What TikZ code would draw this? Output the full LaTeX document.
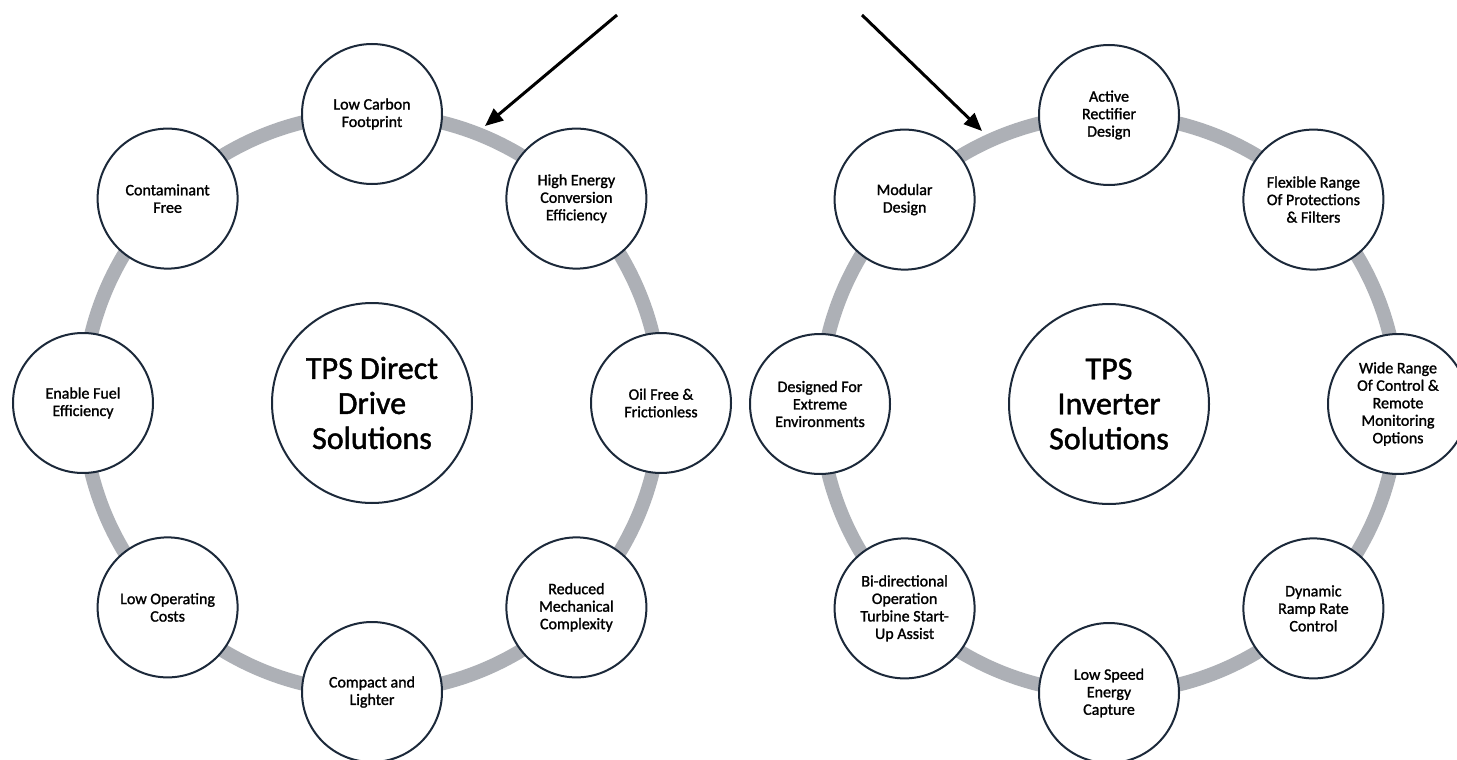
\documentclass[tikz,border=0pt]{standalone}
\usepackage{fontspec}
\setmainfont{Carlito}
% slightly heavier face for the captions
\newfontfamily\captionface{Carlito}[FakeBold=1.4]
\usetikzlibrary{arrows.meta}
\definecolor{ringgray}{HTML}{ADB0B6}
\definecolor{rimnavy}{HTML}{1C293A}
\begin{document}
\begin{tikzpicture}[x=1pt,y=-1pt,
  ring/.style={draw=ringgray,line width=14pt},
  item/.style={circle,draw=rimnavy,line width=2pt,fill=white,minimum size=140pt,
    inner sep=0pt,align=center,text=black,font=\captionface\fontsize{16}{17.5}\selectfont},
  hub/.style={circle,draw=rimnavy,line width=2pt,fill=white,minimum size=200pt,
    inner sep=0pt,align=center,text=black,font=\captionface\fontsize{32}{35}\selectfont},
  pointer/.style={line width=3pt,-{Triangle[length=18pt,width=15pt]}}]
\useasboundingbox (0,0) rectangle (1457,760);
\clip (0,0) rectangle (1457,760);
\fill[white] (0,0) rectangle (1457,760);

% ---- Direct drive ring ----
\coordinate (L) at (372,403);
\draw[ring] (L) circle[radius=289pt];
\node[hub]  (Lhub) at (L) {TPS Direct\\Drive\\Solutions};
\node[item] (L1) at (372,114)     {Low Carbon\\Footprint};
\node[item] (L2) at (576.4,198.6) {High Energy\\Conversion\\Efficiency};
\node[item] (L3) at (661,403)     {Oil Free \&\\Frictionless};
\node[item] (L4) at (576.4,607.4) {Reduced\\Mechanical\\Complexity};
\node[item] (L5) at (372,692)     {Compact and\\Lighter};
\node[item] (L6) at (167.6,607.4) {Low Operating\\Costs};
\node[item] (L7) at (83,403)      {Enable Fuel\\Efficiency};
\node[item] (L8) at (167.6,198.6) {Contaminant\\Free};

% ---- Inverter ring ----
\coordinate (R) at (1109,404);
\draw[ring] (R) circle[radius=289pt];
\node[hub]  (Rhub) at (R) {TPS\\Inverter\\Solutions};
\node[item] (R1) at (1109,115)     {Active\\Rectifier\\Design};
\node[item] (R2) at (1313.4,199.6) {Flexible Range\\Of Protections\\\& Filters};
\node[item] (R3) at (1398,404)     {Wide Range\\Of Control \&\\Remote\\Monitoring\\Options};
\node[item] (R4) at (1313.4,608.4) {Dynamic\\Ramp Rate\\Control};
\node[item] (R5) at (1109,693)     {Low Speed\\Energy\\Capture};
\node[item] (R6) at (904.6,608.4)  {Bi-directional\\Operation\\Turbine Start-\\Up Assist};
\node[item] (R7) at (820,404)      {Designed For\\Extreme\\Environments};
\node[item] (R8) at (904.6,199.6)  {Modular\\Design};

% ---- pointers onto the rings ----
\coordinate (aLs) at (617,15);
\coordinate (aLe) at (485,126);
\coordinate (aRs) at (862,15);
\coordinate (aRe) at (982,131);
\draw[pointer] (aLs) -- (aLe);
\draw[pointer] (aRs) -- (aRe);
\end{tikzpicture}
\end{document}
